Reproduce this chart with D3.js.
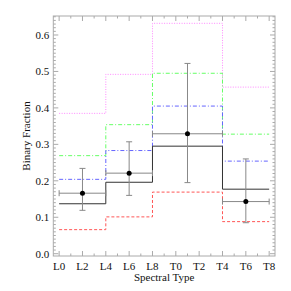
<!DOCTYPE html>
<meta charset="utf-8">
<style>
body { margin: 0; background: #fff; }
svg text { font-family: "Liberation Serif", "Times New Roman", Times, serif; fill: #111; }
</style>
<svg width="291" height="291" font-family="Liberation Serif, Times New Roman, serif"></svg>
<script src="https://d3js.org/d3.v7.min.js"></script>
<script>
// bin edges in numeric spectral type (L0 = 0, T0 = 10)
var binEdges = [0, 4, 8, 14, 18];
var pinkVals  = [0.385, 0.492, 0.632, 0.457];
var greenVals = [0.269, 0.354, 0.495, 0.328];
var blueVals  = [0.204, 0.283, 0.405, 0.254];
var blackVals = [0.137, 0.196, 0.295, 0.177];
var redVals   = [0.066, 0.101, 0.169, 0.088];

// measured points with error bars
var ptX   = [2, 6, 11, 16];
var ptY   = [0.166, 0.221, 0.329, 0.143];
var ptYlo = [0.119, 0.160, 0.195, 0.085];
var ptYhi = [0.234, 0.307, 0.522, 0.260];
var ptXlo = [0, 4, 8, 14];
var ptXhi = [4, 8, 14, 18];

var xTickVals = [0, 2, 4, 6, 8, 10, 12, 14, 16, 18];
var xTickLabels = ["L0", "L2", "L4", "L6", "L8", "T0", "T2", "T4", "T6", "T8"];
var yTickVals = [0.0, 0.1, 0.2, 0.3, 0.4, 0.5, 0.6];

var svg = d3.select("svg"),
    pL = 53.3, pR = 275, pT = 16, pB = 256;

var x = d3.scaleLinear().domain([-0.5, 18.5]).range([pL, pR]);
var y = d3.scaleLinear().domain([-0.0063, 0.6521]).range([pB, pT]);

svg.append("rect").attr("width", 291).attr("height", 291).attr("fill", "#fff");

// ticks (inward, on all four sides)
var xMinor = d3.range(0, 19, 1), yMinor = d3.range(0, 66, 1);
var g = svg.append("g").attr("stroke", "#aaa").attr("stroke-width", 1);
xMinor.forEach(function(v) {
  var len = (v % 2 === 0) ? 5 : 2.5;
  g.append("line").attr("x1", x(v)).attr("x2", x(v)).attr("y1", pB).attr("y2", pB - len);
  g.append("line").attr("x1", x(v)).attr("x2", x(v)).attr("y1", pT).attr("y2", pT + len);
});
yMinor.forEach(function(i) {
  var v = i / 100, len = (i % 10 === 0) ? 5 : 2.5;
  g.append("line").attr("y1", y(v)).attr("y2", y(v)).attr("x1", pL).attr("x2", pL + len);
  g.append("line").attr("y1", y(v)).attr("y2", y(v)).attr("x1", pR).attr("x2", pR - len);
});
svg.append("rect").attr("x", pL).attr("y", pT).attr("width", pR - pL).attr("height", pB - pT)
  .attr("fill", "none").attr("stroke", "#aaa");

// tick labels
svg.append("g").selectAll("text").data(yTickVals).enter().append("text")
  .attr("x", pL - 4).attr("y", function(d) { return y(d); }).attr("dy", "0.35em")
  .attr("text-anchor", "end").attr("font-size", 11)
  .text(function(d) { return d3.format(".1f")(d); });
svg.append("g").selectAll("text").data(xTickVals).enter().append("text")
  .attr("x", function(d) { return x(d); }).attr("y", pB + 14)
  .attr("text-anchor", "middle").attr("font-size", 11)
  .text(function(d, i) { return xTickLabels[i]; });

svg.append("text").attr("x", (pL + pR) / 2).attr("y", 281)
  .attr("text-anchor", "middle").attr("font-size", 11).text("Spectral Type");
svg.append("text").attr("transform", "translate(30," + (pT + pB) / 2 + ") rotate(-90)")
  .attr("text-anchor", "middle").attr("font-size", 11).text("Binary Fraction");

// step histograms
function steps(vals) {
  var pts = [];
  vals.forEach(function(v, i) {
    pts.push([binEdges[i], v]);
    pts.push([binEdges[i + 1], v]);
  });
  return pts;
}
var line = d3.line().x(function(d) { return x(d[0]); }).y(function(d) { return y(d[1]); });

var series = [
  { vals: pinkVals,  color: "#ff88ff", dash: "1,1.5" },
  { vals: greenVals, color: "#66ff66", dash: "4,2,1,2" },
  { vals: blueVals,  color: "#6666ff", dash: "4,2,1,2" },
  { vals: redVals,   color: "#ff5555", dash: "3,2" },
  { vals: blackVals, color: "#333",    dash: null }
];
series.forEach(function(s) {
  svg.append("path").datum(steps(s.vals)).attr("d", line)
    .attr("fill", "none").attr("stroke", s.color).attr("stroke-width", 1)
    .attr("stroke-dasharray", s.dash);
});

// error bars
var eb = svg.append("g").attr("stroke", "#888").attr("stroke-width", 1);
ptX.forEach(function(v, i) {
  eb.append("line").attr("x1", x(v)).attr("x2", x(v)).attr("y1", y(ptYlo[i])).attr("y2", y(ptYhi[i]));
  eb.append("line").attr("x1", x(v) - 3).attr("x2", x(v) + 3).attr("y1", y(ptYlo[i])).attr("y2", y(ptYlo[i]));
  eb.append("line").attr("x1", x(v) - 3).attr("x2", x(v) + 3).attr("y1", y(ptYhi[i])).attr("y2", y(ptYhi[i]));
  eb.append("line").attr("x1", x(ptXlo[i])).attr("x2", x(ptXhi[i])).attr("y1", y(ptY[i])).attr("y2", y(ptY[i]));
  eb.append("line").attr("x1", x(ptXlo[i])).attr("x2", x(ptXlo[i])).attr("y1", y(ptY[i]) - 3).attr("y2", y(ptY[i]) + 3);
  eb.append("line").attr("x1", x(ptXhi[i])).attr("x2", x(ptXhi[i])).attr("y1", y(ptY[i]) - 3).attr("y2", y(ptY[i]) + 3);
});
svg.append("g").selectAll("circle").data(ptX).enter().append("circle")
  .attr("cx", function(d) { return x(d); }).attr("cy", function(d, i) { return y(ptY[i]); })
  .attr("r", 2.5).attr("fill", "#000");
</script>
